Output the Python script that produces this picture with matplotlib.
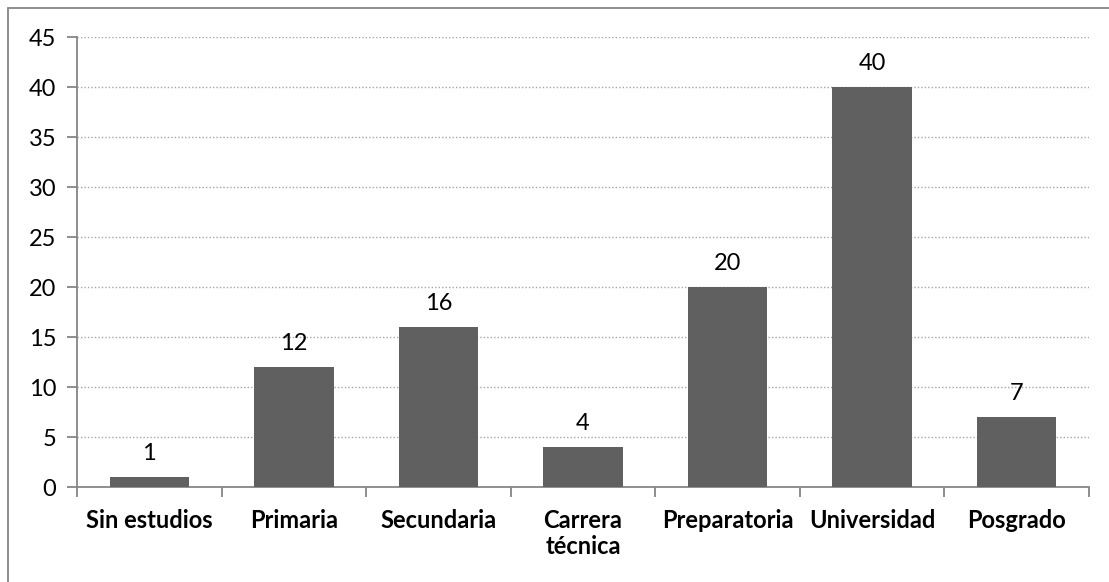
import matplotlib.pyplot as plt
from matplotlib.patches import Rectangle

categorias = ['Sin estudios', 'Primaria', 'Secundaria', 'Carrera\ntécnica',
              'Preparatoria', 'Universidad', 'Posgrado']
valores = [1, 12, 16, 4, 20, 40, 7]
yticks = [0, 5, 10, 15, 20, 25, 30, 35, 40, 45]

plt.rcParams['font.family'] = ['Lato', 'DejaVu Sans']

fig = plt.figure(figsize=(11.09, 5.82), dpi=100)
# marco del grafico (solo se ven los bordes izquierdo y superior)
fig.patches.append(Rectangle((8 / 1109, -0.1), 1.2, (582 - 8) / 582 + 0.1,
                             transform=fig.transFigure, fill=False,
                             edgecolor='#868686', linewidth=1.3))

ax = fig.add_axes([77 / 1109, (582 - 487) / 582, (1089 - 77) / 1109, 450 / 582])
x = range(len(categorias))
ax.bar(x, valores, width=0.55, color='#606060', zorder=3)
for i, v in enumerate(valores):
    ax.text(i, v + 1.3, str(v), ha='center', va='bottom', fontsize=17, color='black')

ax.set_xlim(-0.5, len(categorias) - 0.5)
ax.set_ylim(0, 45)
ax.set_yticks(yticks)
ax.set_yticklabels([str(t) for t in yticks], fontsize=17)
ax.set_xticks(x)
ax.set_xticklabels(categorias, fontsize=17, fontweight='bold', linespacing=1.15)
ax.set_xticks([i - 0.5 for i in range(len(categorias) + 1)], minor=True)
ax.tick_params(axis='x', which='major', length=0, pad=16)
ax.tick_params(axis='x', which='minor', length=7, color='#868686', width=1.3)
ax.tick_params(axis='y', length=7, color='#868686', width=1.3, pad=8)
ax.grid(axis='y', linestyle=(0, (1, 1.5)), color='#a6a6a6', linewidth=1, zorder=0)
for s in ['top', 'right']:
    ax.spines[s].set_visible(False)
for s in ['left', 'bottom']:
    ax.spines[s].set_color('#868686')
    ax.spines[s].set_linewidth(1.3)

fig.savefig('out.png', dpi=100)
